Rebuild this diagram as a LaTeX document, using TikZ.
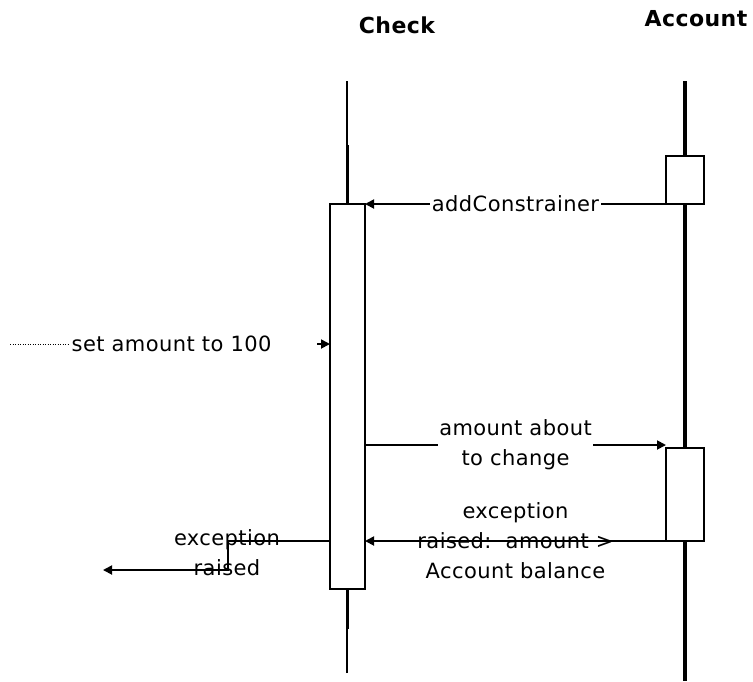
\documentclass[tikz,border=0pt]{standalone}
\usepackage{fontspec}
\setmainfont{DejaVu Sans}[LetterSpace=2]
\usetikzlibrary{arrows.meta, positioning, calc}

\begin{document}
\begin{tikzpicture}[
    x=1pt, y=-1pt,
    title/.style   = {font=\fontsize{22}{24}\selectfont\bfseries, inner sep=0pt},
    lbl/.style     = {font=\fontsize{21}{30}\selectfont, align=center, inner sep=1.5pt},
    actbox/.style  = {rectangle, draw, line width=1.8pt, fill=white, inner sep=0pt, outer sep=0pt},
    life/.style    = {line width=1.8pt},
    lifethick/.style = {line width=3.2pt},
    msg/.style     = {line width=1.8pt, -{Triangle[length=9pt,width=9pt]}}
]
    \useasboundingbox (0,0) rectangle (753,681);

    % --- Kepala objek ---
    \node (chkname) [title] at (397,25) {Check};
    \node (accname) [title] at (696,19) {Account};

    % --- Kotak aktivasi ---
    \node (chkact)  [actbox, minimum width=35pt, minimum height=385pt] at (347.5,396.5) {};
    \node (accact1) [actbox, minimum width=38pt, minimum height=48pt]  at (685,180) {};
    \node (accact2) [actbox, minimum width=38pt, minimum height=93pt]  at (685,494.5) {};

    % --- Garis hidup Check ---
    \coordinate (chktop) at (347,81);
    \coordinate (chkbot) at (347,673);
    \draw [life] (chktop) -- ++(0,64);
    \draw [lifethick] (chkact.north) -- ++(0,-59);
    \draw [lifethick] (chkact.south) -- ++(0,40);
    \draw [life] (chkbot) -- ++(0,-44);

    % --- Garis hidup Account ---
    \coordinate (acctop) at (685,81);
    \coordinate (accbot) at (685,681);
    \draw [lifethick] (acctop) -- (accact1.north);
    \draw [lifethick] (accact1.south) -- (accact2.north);
    \draw [lifethick] (accact2.south) -- (accbot);

    % --- Pesan ---
    % addConstrainer
    \draw [msg] (accact1.south west) -- node[lbl, fill=white] {addConstrainer} (chkact.north east);

    % set amount to 100 (dari luar)
    \coordinate (setfrom) at (10,344);
    \node (setlbl) [lbl, anchor=west] at (70,344) {set amount to 100};
    \coordinate (setend) at (chkact.west |- setlbl);
    \draw [line width=1pt, dash pattern=on 1pt off 1.5pt] (setfrom) -- (setlbl.west);
    \draw [msg] ([xshift=-13pt]setend) -- (setend);

    % amount about to change
    \coordinate (chgrow) at (0,445);
    \draw [msg] (chkact.east |- chgrow) -- node[lbl, fill=white] {amount about\\to change} (accact2.west |- chgrow);

    % exception dari Account
    \draw [msg] (accact2.south west) -- node[lbl] {exception\\raised:\ \ amount >\\Account balance} (chkact.east |- accact2.south);

    % exception keluar dari Check
    \coordinate (excbend) at (228,541);
    \coordinate (excend)  at (103,570);
    \node (exclbl) [lbl] at (227,553) {exception\\raised};
    \draw [msg] (chkact.west |- accact2.south) -- (excbend) |- (excend);

\end{tikzpicture}
\end{document}
